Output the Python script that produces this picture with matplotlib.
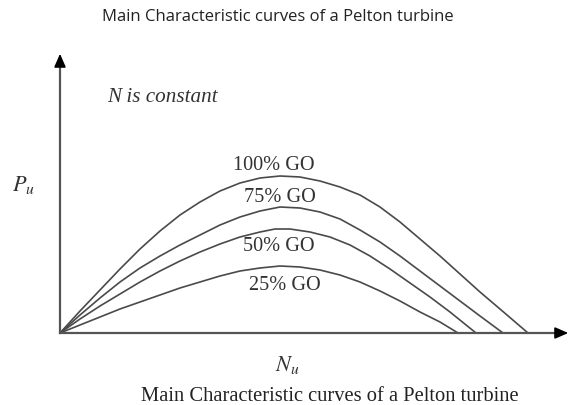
import matplotlib
matplotlib.use("Agg")
import matplotlib.pyplot as plt

# Data (Nu, Pu), arbitrary units
nu_100 = [0, 20, 40, 60, 80, 100, 120, 140, 160, 180, 200, 220, 240, 260, 280, 300, 320, 340, 360, 380, 400, 420, 440, 468]
pu_100 = [0, 22, 43, 64, 84, 102, 118, 131, 142, 150, 155, 157, 156, 152, 146, 138, 126, 111, 94, 77, 59, 41, 24, 0]
nu_75 = [0, 20, 40, 60, 80, 100, 120, 140, 160, 180, 200, 220, 240, 260, 280, 300, 320, 340, 360, 380, 400, 420, 443]
pu_75 = [0, 18, 35, 51, 65, 77, 88, 98, 108, 116, 122, 126, 125, 121, 114, 103, 91, 77, 62, 47, 32, 17, 0]
nu_50 = [0, 20, 40, 60, 80, 100, 120, 140, 160, 180, 200, 215, 230, 250, 270, 290, 310, 330, 350, 370, 390, 416]
pu_50 = [0, 14, 27, 39, 51, 62, 72, 81, 89, 96, 101, 104, 104, 101, 96, 88, 77, 64, 50, 36, 21, 0]
nu_25 = [0, 20, 40, 60, 80, 100, 120, 140, 160, 180, 200, 220, 240, 260, 280, 300, 320, 340, 360, 380, 398]
pu_25 = [0, 8, 16, 24, 31, 38, 45, 51, 57, 62, 65, 67, 66, 63, 58, 51, 42, 32, 21, 11, 0]
labels = ["100% GO", "75% GO", "50% GO", "25% GO"]

title = "Main Characteristic curves of a Pelton turbine"
caption = "Main Characteristic curves of a Pelton turbine"

plt.rcParams['mathtext.fontset'] = 'stix'
fig = plt.figure(figsize=(5.71, 4.06), dpi=100)
ax = fig.add_axes([0, 0, 1, 1])
ax.set_xlim(-60, 511)
ax.set_ylim(-72, 334)
ax.axis('off')

curve_color = '#4a4a4a'
for x, y in [(nu_100, pu_100), (nu_75, pu_75), (nu_50, pu_50), (nu_25, pu_25)]:
    ax.plot(x, y, color=curve_color, lw=1.2, solid_capstyle='round', solid_joinstyle='round')

# axes with arrows
axis_color = '#555555'
ax.plot([0, 502], [0, 0], color=axis_color, lw=1.6)
ax.plot([0, 0], [0, 274], color=axis_color, lw=1.6)
ax.annotate('', xy=(511, 0), xytext=(496, 0),
            arrowprops=dict(arrowstyle='-|>,head_length=0.8,head_width=0.35', color='black', lw=1.2))
ax.annotate('', xy=(0, 282), xytext=(0, 267),
            arrowprops=dict(arrowstyle='-|>,head_length=0.8,head_width=0.35', color='black', lw=1.2))

serif = 'Liberation Serif'
label_pos = [(214, 169), (220, 137), (219, 87), (225, 49)]
for lab, (lx, ly) in zip(labels, label_pos):
    ax.text(lx, ly, lab, family=serif, fontsize=14.6, ha='center', va='center', color='#333333')

ax.text(47, 237, 'N is constant', family=serif, style='italic', fontsize=15.2,
        ha='left', va='center', color='#333333')
ax.text(-37, 149, r'$P_u$', fontsize=16, ha='center', va='center', color='#333333')
ax.text(227, -31, r'$N_u$', fontsize=16, ha='center', va='center', color='#333333')
ax.text(270, -63, caption, family=serif, fontsize=14.8, ha='center', va='center', color='#222222')

fig.text(278 / 571, 1 - 17 / 406, title, family='Open Sans', fontsize=12,
         ha='center', va='center', color='#222222')

fig.savefig('out.png', dpi=100)
